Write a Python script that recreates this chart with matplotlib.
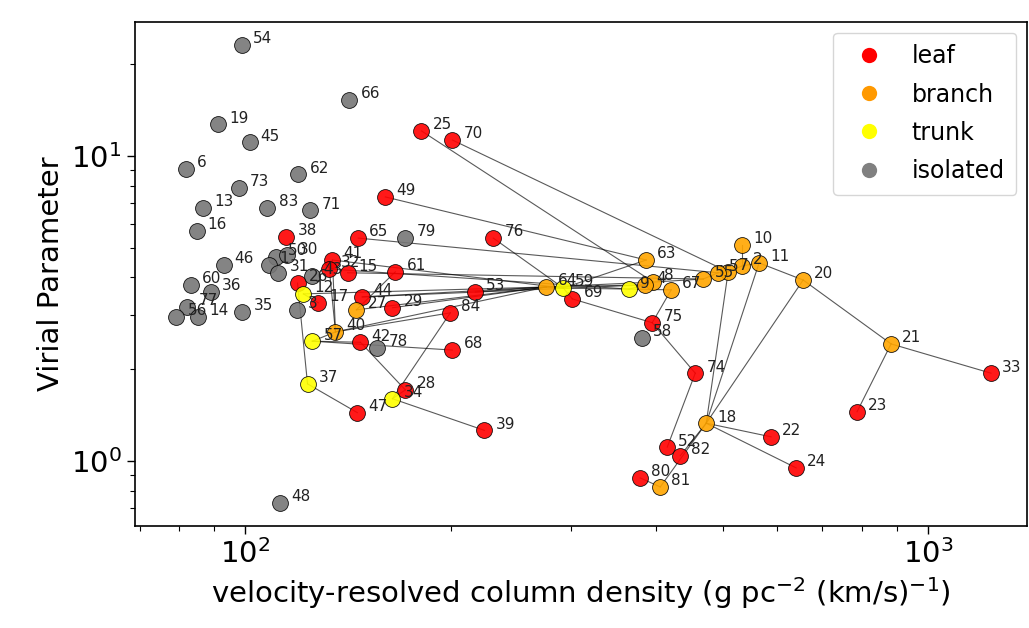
import matplotlib
matplotlib.use("Agg")
import matplotlib.pyplot as plt
from matplotlib.lines import Line2D

# ---------------- data ----------------
leaf_labels = ["25", "70", "49", "38", "65", "76", "41", "32", "15", "61", "26", "17", "44", "29",
               "53", "84", "69", "75", "68", "42", "28", "39", "47", "74", "52", "82", "80", "22",
               "24", "23", "33"]
leaf_x = [181.1, 201.0, 160.3, 114.8, 146.3, 230.7, 134.1, 132.7, 141.1, 165.8, 119.2, 127.9, 148.3, 164.2,
          217.1, 199.6, 301.2, 394.4, 201.0, 147.4, 171.5, 223.9, 145.9, 456.0, 414.9, 433.5, 378.7, 588.9,
          640.9, 787.0, 1236.7]
leaf_y = [12.08, 11.28, 7.34, 5.42, 5.38, 5.38, 4.56, 4.26, 4.14, 4.17, 3.83, 3.30, 3.45, 3.18,
          3.58, 3.06, 3.40, 2.84, 2.31, 2.45, 1.71, 1.26, 1.44, 1.94, 1.11, 1.04, 0.880, 1.20,
          0.949, 1.45, 1.94]

branch_labels = ["63", "10", "2", "11", "7", "5", "55", "8", "4", "67", "20", "21", "18", "81", "64", "27", "40"]
branch_x = [386.5, 534.2, 534.2, 565.6, 509.5, 492.5, 468.5, 395.8, 385.2, 420.5, 656.2, 882.8, 473.2, 405.2,
            275.9, 145.4, 135.5]
branch_y = [4.56, 5.11, 4.36, 4.46, 4.17, 4.14, 3.95, 3.86, 3.78, 3.64, 3.92, 2.42, 1.33, 0.822,
            3.72, 3.13, 2.65]

trunk_labels = ["12", "57", "37", "34", "59", "9"]
trunk_x = [121.6, 125.3, 123.3, 164.2, 292.2, 364.9]
trunk_y = [3.53, 2.47, 1.79, 1.60, 3.69, 3.66]

iso_labels = ["54", "66", "19", "45", "6", "62", "73", "13", "83", "71", "16", "79", "46", "60",
              "36", "77", "56", "14", "35", "50", "30", "1", "31", "43", "3", "78", "58", "48"]
iso_x = [98.7, 142.0, 91.3, 101.4, 81.7, 119.6, 97.7, 86.8, 107.7, 124.5, 84.8, 171.5, 92.9, 83.1,
         88.9, 82.2, 79.2, 85.3, 99.0, 111.0, 115.2, 108.1, 111.7, 125.3, 118.8, 156.1, 381.3, 112.5]
iso_y = [23.1, 15.3, 12.7, 11.1, 9.06, 8.72, 7.85, 6.75, 6.75, 6.64, 5.68, 5.38, 4.39, 3.78,
         3.58, 3.20, 2.97, 2.97, 3.08, 4.67, 4.73, 4.39, 4.14, 4.04, 3.13, 2.35, 2.53, 0.728]

# tree connections (child, parent)
links = [("25", "8"), ("70", "7"), ("49", "63"), ("65", "5"), ("76", "59"), ("15", "55"), ("61", "27"),
         ("63", "59"), ("10", "2"), ("2", "11"), ("11", "20"), ("20", "21"), ("21", "33"), ("21", "23"),
         ("20", "18"), ("11", "18"), ("7", "18"), ("22", "18"), ("24", "18"), ("82", "18"), ("81", "18"),
         ("80", "81"), ("52", "74"), ("74", "75"), ("75", "67"), ("69", "75"), ("69", "59"), ("64", "59"),
         ("59", "9"), ("64", "8"), ("64", "4"), ("9", "4"), ("9", "67"), ("4", "8"), ("8", "55"),
         ("55", "5"), ("5", "7"), ("7", "2"), ("53", "64"), ("44", "64"), ("29", "64"), ("27", "64"),
         ("40", "64"), ("12", "64"), ("17", "12"), ("41", "40"), ("32", "40"), ("41", "59"), ("32", "9"),
         ("26", "37"), ("37", "47"), ("57", "40"), ("42", "57"), ("68", "57"), ("28", "42"), ("84", "34"),
         ("84", "40"), ("28", "34"), ("39", "34"), ("44", "4")]

categories = ["leaf", "branch", "trunk", "isolated"]
colors = {"leaf": "red", "branch": "orange", "trunk": "yellow", "isolated": "#777777"}
legend_colors = {"leaf": "red", "branch": "#ff9900", "trunk": "yellow", "isolated": "gray"}

# ---------------- plot ----------------
fig = plt.figure(figsize=(10.29, 6.28), dpi=100)
ax = fig.add_axes([0.1312, 0.1624, 0.8668, 0.8026])
ax.set_xscale("log")
ax.set_yscale("log")

groups = {
    "leaf": (leaf_labels, leaf_x, leaf_y),
    "branch": (branch_labels, branch_x, branch_y),
    "trunk": (trunk_labels, trunk_x, trunk_y),
    "isolated": (iso_labels, iso_x, iso_y),
}
pos = {}
for cat in categories:
    labs, xs, ys = groups[cat]
    for l, x, y in zip(labs, xs, ys):
        pos[l] = (x, y)

for a, b in links:
    xa, ya = pos[a]
    xb, yb = pos[b]
    ax.plot([xa, xb], [ya, yb], color="black", lw=0.8, alpha=0.65, zorder=1)

for cat in categories:
    labs, xs, ys = groups[cat]
    ax.scatter(xs, ys, s=130, c=colors[cat], edgecolors="black", linewidths=0.6,
               alpha=0.9, zorder=2)

for cat in categories:
    labs, xs, ys = groups[cat]
    for l, x, y in zip(labs, xs, ys):
        ax.annotate(l, (x, y), xytext=(8, -1), textcoords="offset points",
                    fontsize=11, color="#222222", ha="left", va="bottom", zorder=3)

ax.set_xlim(68.9, 1396)
ax.set_ylim(0.612, 27.5)
ax.set_xlabel(r"velocity-resolved column density (g pc$^{-2}$ (km/s)$^{-1}$)", fontsize=21)
ax.set_ylabel("Virial Parameter", fontsize=21)
ax.tick_params(axis="both", which="major", labelsize=21, length=6, width=1)
ax.tick_params(axis="both", which="minor", length=3.5, width=0.8)
for sp in ax.spines.values():
    sp.set_linewidth(1.2)

handles = [Line2D([0], [0], marker="o", linestyle="", markersize=11, markeredgewidth=0,
                  color=legend_colors[c], label=c) for c in categories]
ax.legend(handles=handles, loc="upper right", fontsize=17, borderaxespad=0.45,
          labelspacing=0.6, borderpad=0.5)

fig.savefig("out.png", dpi=100)
